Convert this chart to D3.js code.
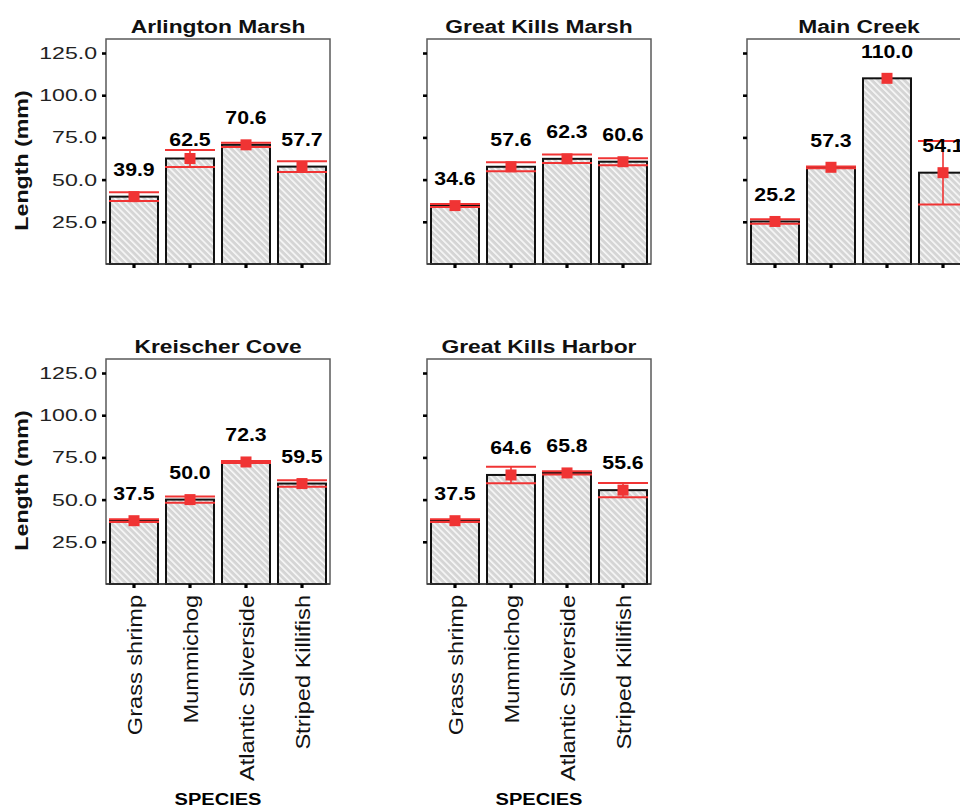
<!DOCTYPE html>
<html>
<head>
<meta charset="utf-8">
<script src="https://cdn.jsdelivr.net/npm/d3@7"></script>
<style>
  html, body { margin: 0; padding: 0; background: #ffffff; }
  svg { display: block; }
</style>
</head>
<body>
<svg id="chart" width="960" height="812"></svg>
<script>
// Mean length (mm) by species at each site, with the error half-widths.
const sites = ["Arlington Marsh", "Great Kills Marsh", "Main Creek", "Kreischer Cove", "Great Kills Harbor"];
const species = ["Grass shrimp", "Mummichog", "Atlantic Silverside", "Striped Killifish"];
const meanLength = [
  [39.9, 62.5, 70.6, 57.7],
  [34.6, 57.6, 62.3, 60.6],
  [25.2, 57.3, 110.0, 54.1],
  [37.5, 50.0, 72.3, 59.5],
  [37.5, 64.6, 65.8, 55.6]
];
const errLength = [
  [2.6, 5.0, 1.3, 3.2],
  [0.9, 2.7, 2.5, 2.1],
  [1.3, 0.5, null, 18.8],
  [0.8, 1.9, 0.6, 1.9],
  [0.8, 4.9, 1.0, 4.2]
];
const yTicks = [25, 50, 75, 100, 125];
const yLabel = "Length (mm)";
const xLabel = "SPECIES";

// Layout of the small-multiple grid
const panelCols = [106, 427, 747];
const panelRows = [39, 359];
const panelW = 224, panelH = 225;
const yMax = 133.3;
const labelGap = 12.3;               // value-label baseline sits this far (in mm) above the bar
const labelNudge = { "Arlington Marsh|Mummichog": -5.1 };
const font = "'Liberation Sans', Arial, Helvetica, sans-serif";
const red = "#f03434";

const svg = d3.select("#chart");

// Grey fill with fine white diagonal hatching
const defs = svg.append("defs");
const pat = defs.append("pattern")
  .attr("id", "hatch")
  .attr("patternUnits", "userSpaceOnUse")
  .attr("width", 4.6).attr("height", 8)
  .attr("patternTransform", "rotate(-45)");
pat.append("rect").attr("width", 4.6).attr("height", 8).attr("fill", "#d5d5d5");
pat.append("rect").attr("x", 0).attr("width", 1.6).attr("height", 8).attr("fill", "#f8f8f8");

// Text helper: the bitmap-style font is wider than Arial, so glyphs are widened
function label(g, txt, x, y, opts) {
  const o = Object.assign({ size: 17, weight: "normal", anchor: "middle", rot: 0, sx: 1.2, fill: "#111" }, opts);
  return g.append("text")
    .attr("transform", `translate(${x},${y}) rotate(${o.rot}) scale(${o.sx},1)`)
    .attr("text-anchor", o.anchor)
    .attr("font-family", font)
    .attr("font-size", o.size)
    .attr("font-weight", o.weight)
    .attr("fill", o.fill)
    .text(txt);
}

sites.forEach((site, i) => {
  const col = i % 3, row = Math.floor(i / 3);
  const left = panelCols[col], top = panelRows[row];
  const bottom = top + panelH;

  const x = d3.scaleBand().domain(species)
    .range([left, left + panelW])
    .paddingInner(0.143).paddingOuter(0.0715);
  const y = d3.scaleLinear().domain([0, yMax]).range([bottom, top]);

  const g = svg.append("g").attr("class", "panel");

  // Plot frame
  g.append("rect")
    .attr("x", left).attr("y", top)
    .attr("width", panelW).attr("height", panelH)
    .attr("fill", "none").attr("stroke", "#5a5a5a").attr("stroke-width", 1.5);

  // Title
  label(g, site, left + panelW / 2, top - 6, { size: 19, weight: "bold", sx: 1.2 });

  // Y axis ticks (labels only on the first column)
  const yAxis = d3.axisLeft(y).tickValues(yTicks).tickSize(4).tickFormat("");
  const ya = g.append("g").attr("transform", `translate(${left},0)`).call(yAxis);
  ya.select(".domain").remove();
  ya.selectAll(".tick line").attr("stroke", "#000").attr("stroke-width", 2.6);
  ya.selectAll(".tick text").remove();
  if (col === 0) {
    yTicks.forEach(t => {
      label(g, d3.format(".1f")(t), left - 9, y(t) + 6, { size: 16.5, anchor: "end", sx: 1.4, fill: "#222" });
    });
    label(g, yLabel, 28, top + panelH / 2 + 9, { size: 19, weight: "bold", rot: -90, sx: 1.22 });
  }

  // Bars
  const means = meanLength[i], errs = errLength[i];
  g.selectAll("rect.bar").data(species).join("rect")
    .attr("class", "bar")
    .attr("x", d => x(d))
    .attr("y", (d, k) => y(means[k]))
    .attr("width", x.bandwidth())
    .attr("height", (d, k) => bottom - y(means[k]))
    .attr("fill", "url(#hatch)")
    .attr("stroke", "#111").attr("stroke-width", 2);

  // Bottom axis line and small tick marks
  g.append("line")
    .attr("x1", left).attr("x2", left + panelW)
    .attr("y1", bottom).attr("y2", bottom)
    .attr("stroke", "#333").attr("stroke-width", 1.6);
  const xAxis = d3.axisBottom(x).tickSize(4).tickFormat("");
  const xa = g.append("g").attr("transform", `translate(0,${bottom})`).call(xAxis);
  xa.select(".domain").remove();
  xa.selectAll(".tick line").attr("stroke", "#000").attr("stroke-width", 3.2);

  // Error bars and mean markers
  species.forEach((sp, k) => {
    const cx = x(sp) + x.bandwidth() / 2;
    const m = means[k], e = errs[k];
    if (e != null) {
      g.append("line").attr("x1", cx).attr("x2", cx)
        .attr("y1", y(m + e)).attr("y2", y(m - e))
        .attr("stroke", red).attr("stroke-width", 1.6);
      [m + e, m - e].forEach(v => {
        g.append("line")
          .attr("x1", x(sp) - 1).attr("x2", x(sp) + x.bandwidth() + 1)
          .attr("y1", y(v)).attr("y2", y(v))
          .attr("stroke", red).attr("stroke-width", 2);
      });
    }
    g.append("rect")
      .attr("x", cx - 5.5).attr("y", y(m) - 5.5)
      .attr("width", 11).attr("height", 11)
      .attr("fill", red);

    // Value label
    const nudge = labelNudge[site + "|" + sp] || 0;
    label(g, d3.format(".1f")(m), cx, y(m + labelGap + nudge),
      { size: 18.5, weight: "bold", sx: 1.15, fill: "#000" });
  });

  // Category labels under the bottom row
  const isBottom = row === 1;
  if (isBottom) {
    species.forEach(sp => {
      const cx = x(sp) + x.bandwidth() / 2;
      label(g, sp, cx + 7.5, bottom + 11, { size: 19.5, anchor: "end", rot: -90, sx: 1.21, fill: "#111" });
    });
    label(g, xLabel, left + panelW / 2, 805, { size: 17, weight: "bold", sx: 1.18, fill: "#000" });
  }
});
</script>
</body>
</html>
